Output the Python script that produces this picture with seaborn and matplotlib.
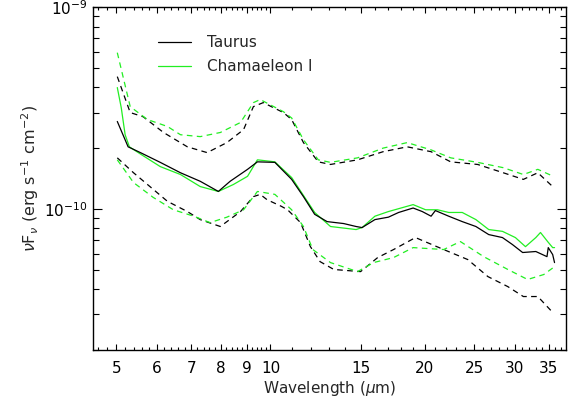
import numpy as np
import pandas as pd
import matplotlib
matplotlib.use("Agg")
import matplotlib.pyplot as plt
import seaborn as sns
from matplotlib.ticker import FixedLocator, FixedFormatter, NullFormatter

# ---- data (flux in units of 1e-10 erg s^-1 cm^-2) ----
tau_w = [5.02, 5.27, 5.57, 6.09, 6.67, 7.29, 7.91, 8.34, 9.02, 9.43, 10.2, 11.0, 11.6, 12.2,
         12.9, 13.9, 14.7, 15.1, 16.0, 17.0, 17.8, 19.0, 19.8, 20.6, 21.0, 22.3, 23.7, 25.2,
         26.7, 28.4, 29.7, 31.1, 33.0, 34.7, 34.9, 35.6, 35.9]
tau_f = [2.71, 2.03, 1.90, 1.70, 1.51, 1.37, 1.22, 1.37, 1.57, 1.71, 1.70, 1.40, 1.15, 0.94,
         0.865, 0.846, 0.818, 0.808, 0.885, 0.91, 0.96, 1.01, 0.97, 0.92, 0.981, 0.92, 0.865, 0.818,
         0.746, 0.721, 0.666, 0.608, 0.615, 0.58, 0.643, 0.594, 0.542]

cha_w = [5.02, 5.11, 5.20, 5.30, 5.57, 6.09, 6.67, 7.29, 7.91, 8.46, 9.02, 9.43, 10.2, 11.0,
         12.2, 13.1, 14.7, 15.1, 16.0, 17.0, 19.0, 20.1, 21.2, 22.3, 23.7, 25.2, 26.7, 28.4,
         30.1, 31.5, 33.0, 33.7, 34.8, 35.6, 35.9]
cha_f = [3.99, 3.17, 2.33, 2.03, 1.87, 1.62, 1.48, 1.29, 1.22, 1.32, 1.45, 1.75, 1.71, 1.43,
         0.96, 0.818, 0.79, 0.808, 0.92, 0.97, 1.05, 0.99, 0.99, 0.96, 0.96, 0.885, 0.79, 0.774,
         0.721, 0.650, 0.721, 0.764, 0.689, 0.643, 0.643]

tau_hi_w = [5.02, 5.32, 5.64, 6.18, 6.88, 7.52, 8.22, 8.86, 9.26, 9.68, 10.6, 11.0, 11.6, 12.4,
            13.1, 14.8, 16.6, 18.5, 20.6, 22.5, 25.4, 28.5, 31.2, 33.3, 35.6]
tau_hi_f = [4.52, 3.00, 2.86, 2.39, 2.03, 1.90, 2.13, 2.47, 3.21, 3.36, 3.00, 2.77, 2.13, 1.71,
            1.66, 1.75, 1.92, 2.03, 1.92, 1.71, 1.66, 1.51, 1.40, 1.51, 1.29]

cha_hi_w = [5.02, 5.32, 5.75, 6.29, 6.67, 7.29, 7.98, 8.74, 9.26, 9.55, 10.6, 11.0, 11.6, 12.4,
            13.1, 14.8, 16.6, 18.5, 20.6, 22.5, 25.4, 28.5, 31.2, 33.3, 35.7]
cha_hi_f = [5.94, 3.21, 2.77, 2.56, 2.33, 2.28, 2.39, 2.68, 3.36, 3.48, 3.03, 2.82, 2.20, 1.75,
            1.70, 1.79, 2.00, 2.13, 1.96, 1.79, 1.70, 1.60, 1.48, 1.57, 1.45]

tau_lo_w = [5.02, 5.40, 5.90, 6.29, 6.88, 7.29, 7.98, 8.74, 9.26, 9.55, 9.85, 10.5, 10.8, 11.45,
            11.97, 12.5, 13.3, 15.0, 16.2, 17.4, 19.2, 21.8, 24.3, 26.6, 29.1, 31.2, 33.3, 35.6]
tau_lo_f = [1.79, 1.51, 1.25, 1.09, 0.97, 0.885, 0.818, 0.97, 1.15, 1.18, 1.11, 1.03, 0.99, 0.855,
            0.650, 0.548, 0.501, 0.489, 0.574, 0.629, 0.721, 0.629, 0.561, 0.462, 0.412, 0.368, 0.368, 0.307]

cha_lo_w = [5.02, 5.40, 5.90, 6.46, 7.08, 7.62, 8.22, 8.86, 9.43, 10.2, 11.0, 11.6, 12.1, 13.1,
            14.8, 15.9, 17.4, 19.0, 21.8, 23.5, 26.1, 29.1, 31.8, 34.2, 35.7]
cha_lo_f = [1.75, 1.35, 1.14, 0.99, 0.92, 0.855, 0.91, 0.99, 1.22, 1.18, 0.99, 0.818, 0.629, 0.542,
            0.489, 0.542, 0.574, 0.643, 0.629, 0.689, 0.580, 0.501, 0.447, 0.473, 0.512]

x_major = [5, 6, 7, 8, 9, 10, 15, 20, 25, 30, 35]
x_labels = ["5", "6", "7", "8", "9", "10", "15", "20", "25", "30", "35"]

GREEN = "#22ee22"

sns.set_style("ticks")
plt.rcParams.update({
    "font.family": ["DejaVu Sans"],
    "xtick.direction": "in", "ytick.direction": "in",
    "xtick.top": True, "xtick.bottom": True, "ytick.left": True, "ytick.right": True,
    "xtick.color": "black", "ytick.color": "black",
    "xtick.major.size": 4.5, "xtick.minor.size": 2.3,
    "ytick.major.size": 6.5, "ytick.minor.size": 4.0,
    "xtick.major.width": 0.8, "xtick.minor.width": 0.8,
    "ytick.major.width": 0.8, "ytick.minor.width": 0.8,
    "xtick.labelsize": 11, "ytick.labelsize": 11,
    "xtick.major.pad": 8, "ytick.major.pad": 4,
    "axes.edgecolor": "black", "axes.linewidth": 1.0,
})

fig = plt.figure(figsize=(5.76, 4.08), dpi=100)
ax = fig.add_axes([93 / 576, 1 - 350 / 408, (566 - 93) / 576, (350 - 7) / 408])

def draw(w, f, color, dashed, label=None):
    df = pd.DataFrame({"w": w, "f": np.array(f) * 1e-10})
    kw = dict(x="w", y="f", data=df, ax=ax, color=color, lw=0.9, sort=False, estimator=None)
    if label is not None:
        kw["label"] = label
    line = sns.lineplot(**kw).lines[-1]
    if dashed:
        line.set_dashes([4.5, 3.5])
    return line

draw(tau_hi_w, tau_hi_f, "black", True)
draw(tau_lo_w, tau_lo_f, "black", True)
draw(cha_hi_w, cha_hi_f, GREEN, True)
draw(cha_lo_w, cha_lo_f, GREEN, True)
draw(cha_w, cha_f, GREEN, False, "Chamaeleon I")
draw(tau_w, tau_f, "black", False, "Taurus")

ax.set_xscale("log")
ax.set_yscale("log")
ax.set_xlim(4.5, 37.8)
ax.set_ylim(2.0e-11, 1e-9)

x_minor = [4.6, 4.8] + [round(5 + 0.2 * i, 1) for i in range(1, 25) if round(5 + 0.2 * i, 1) not in (6, 7, 8, 9, 10)] \
          + [v for v in range(11, 38) if v not in x_major]
ax.xaxis.set_major_locator(FixedLocator(x_major))
ax.xaxis.set_major_formatter(FixedFormatter(x_labels))
ax.xaxis.set_minor_locator(FixedLocator(x_minor))
ax.xaxis.set_minor_formatter(NullFormatter())

y_major = [1e-10, 1e-9]
y_minor = [k * 1e-11 for k in range(2, 10)] + [k * 1e-10 for k in range(2, 10)]
ax.yaxis.set_major_locator(FixedLocator(y_major))
ax.yaxis.set_major_formatter(FixedFormatter([r"10$^{-10}$", r"10$^{-9}$"]))
ax.yaxis.set_minor_locator(FixedLocator(y_minor))
ax.yaxis.set_minor_formatter(NullFormatter())

ax.tick_params(axis="x", which="major", direction="in", length=4.5, width=0.8, top=True, bottom=True,
               labelsize=11, pad=8, color="black")
ax.tick_params(axis="x", which="minor", direction="in", length=2.3, width=0.8, top=True, bottom=True,
               color="black")
ax.tick_params(axis="y", which="major", direction="in", length=6.5, width=0.8, left=True, right=True,
               labelsize=11, pad=4, color="black")
ax.tick_params(axis="y", which="minor", direction="in", length=4, width=0.8, left=True, right=True,
               color="black")
for s in ax.spines.values():
    s.set_visible(True)
    s.set_color("black")
    s.set_linewidth(1.0)

ax.set_xlabel(r"Wavelength ($\mu$m)", fontsize=11, labelpad=2)
ax.set_ylabel(r"$\nu$F$_\nu$ (erg s$^{-1}$ cm$^{-2}$)", fontsize=11.5, labelpad=2)

handles, labels = ax.get_legend_handles_labels()
order = [labels.index("Taurus"), labels.index("Chamaeleon I")]
ax.legend([handles[i] for i in order], [labels[i] for i in order],
          loc="upper left", bbox_to_anchor=(0.108, 0.958), frameon=False, fontsize=11,
          handlelength=2.2, handletextpad=1.0, labelspacing=0.6)

fig.savefig("out.png", dpi=100)
